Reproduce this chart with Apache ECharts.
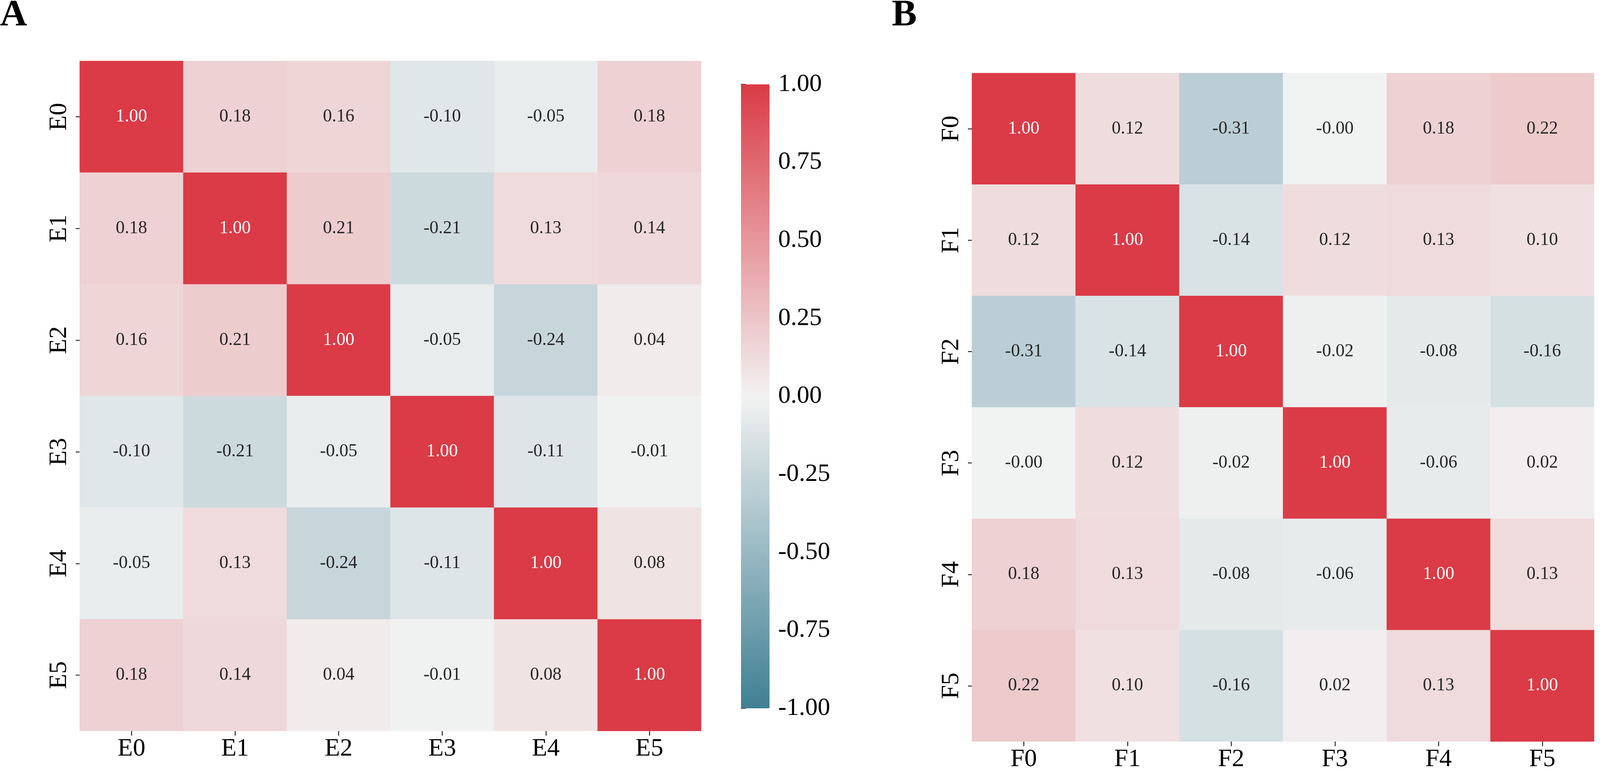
<!DOCTYPE html>
<html>
<head>
<meta charset="utf-8">
<script src="https://cdn.jsdelivr.net/npm/echarts@6/dist/echarts.min.js"></script>
<style>
html,body{margin:0;padding:0;background:#fff;}
#chart{width:4409px;height:1976px;}
</style>
</head>
<body>
<div id="chart"></div>
<script>
// ---- data ----
const catsA = ['E0','E1','E2','E3','E4','E5'];
const catsB = ['F0','F1','F2','F3','F4','F5'];
const corrA = [
  [ 1.00, 0.18, 0.16,-0.10,-0.05, 0.18],
  [ 0.18, 1.00, 0.21,-0.21, 0.13, 0.14],
  [ 0.16, 0.21, 1.00,-0.05,-0.24, 0.04],
  [-0.10,-0.21,-0.05, 1.00,-0.11,-0.01],
  [-0.05, 0.13,-0.24,-0.11, 1.00, 0.08],
  [ 0.18, 0.14, 0.04,-0.01, 0.08, 1.00]
];
// -0.003 is an estimate of a value shown as "-0.00"
const corrB = [
  [ 1.00, 0.12,-0.31,-0.003, 0.18, 0.22],
  [ 0.12, 1.00,-0.14, 0.12, 0.13, 0.10],
  [-0.31,-0.14, 1.00,-0.02,-0.08,-0.16],
  [-0.003, 0.12,-0.02, 1.00,-0.06, 0.02],
  [ 0.18, 0.13,-0.08,-0.06, 1.00, 0.13],
  [ 0.22, 0.10,-0.16, 0.02, 0.13, 1.00]
];
const panelLabels = ['A','B'];
const cbarTicks = [-1.00,-0.75,-0.50,-0.25,0.00,0.25,0.50,0.75,1.00];

// ---- build ----
const FONT = 'Liberation Serif';
const palette = ['#3f7f93','#f2f2f2','#da3b46'];

function toData(m){
  const out = [];
  m.forEach((row, r) => row.forEach((v, c) => {
    out.push({value:[c, r, v], label:{color: v > 0.5 ? '#ffffff' : '#262626'}});
  }));
  return out;
}

const grids = [
  {left:204, top:156, width:1591, height:1715},
  {left:2488, top:187, width:1593, height:1716},
  {left:1897, top:216, width:73, height:1597},
  {left:4181, top:247, width:72, height:1598}
];

function catX(cats, gi){
  return {
    type:'category', data:cats, gridIndex:gi,
    axisLine:{show:false},
    axisTick:{show:true, alignWithLabel:true, length:12, lineStyle:{color:'#000', width:2}},
    axisLabel:{fontFamily:FONT, fontSize:64, color:'#000', margin:14},
    splitLine:{show:false}
  };
}
function catY(cats, gi){
  return {
    type:'category', data:cats, gridIndex:gi, inverse:true,
    axisLine:{show:false},
    axisTick:{show:true, alignWithLabel:true, length:10, lineStyle:{color:'#000', width:2}},
    axisLabel:{fontFamily:FONT, fontSize:64, color:'#000', rotate:90, margin:20},
    splitLine:{show:false}
  };
}
function cbarY(gi){
  return {
    type:'value', gridIndex:gi, position:'right', min:-1, max:1, interval:0.25,
    axisLine:{show:false},
    axisTick:{show:true, length:12, lineStyle:{color:'#000', width:2}},
    axisLabel:{fontFamily:FONT, fontSize:64, color:'#000', margin:22,
      formatter: v => {
        const t = cbarTicks.find(x => Math.abs(x - v) < 1e-9);
        return (t === undefined ? v : t).toFixed(2);
      }},
    splitLine:{show:false}
  };
}

const option = {
  backgroundColor:'#ffffff',
  animation:false,
  grid: grids,
  xAxis: [
    catX(catsA,0), catX(catsB,1),
    {type:'value', gridIndex:2, show:false},
    {type:'value', gridIndex:3, show:false}
  ],
  yAxis: [catY(catsA,0), catY(catsB,1), cbarY(2), cbarY(3)],
  visualMap: [
    {type:'continuous', min:-1, max:1, seriesIndex:0, calculable:false, hoverLink:false,
     orient:'vertical', left:1897, top:216, itemWidth:73, itemHeight:1597, padding:0,
     inRange:{color:palette}, text:null},
    {type:'continuous', min:-1, max:1, seriesIndex:1, calculable:false, hoverLink:false,
     orient:'vertical', left:4181, top:247, itemWidth:72, itemHeight:1598, padding:0,
     inRange:{color:palette}, text:null}
  ],
  series: [
    {type:'heatmap', xAxisIndex:0, yAxisIndex:0, data:toData(corrA),
     label:{show:true, fontFamily:FONT, fontSize:46, formatter:p => p.value[2].toFixed(2)},
     emphasis:{disabled:true}},
    {type:'heatmap', xAxisIndex:1, yAxisIndex:1, data:toData(corrB),
     label:{show:true, fontFamily:FONT, fontSize:46, formatter:p => p.value[2].toFixed(2)},
     emphasis:{disabled:true}}
  ],
  graphic: [
    {type:'text', left:0, top:-8, style:{text:panelLabels[0], font:'bold 96px "Liberation Serif"', fill:'#000'}},
    {type:'text', left:2283, top:-8, style:{text:panelLabels[1], font:'bold 96px "Liberation Serif"', fill:'#000'}}
  ]
};

const chart = echarts.init(document.getElementById('chart'), null, {renderer:'canvas'});
chart.setOption(option);
</script>
</body>
</html>
